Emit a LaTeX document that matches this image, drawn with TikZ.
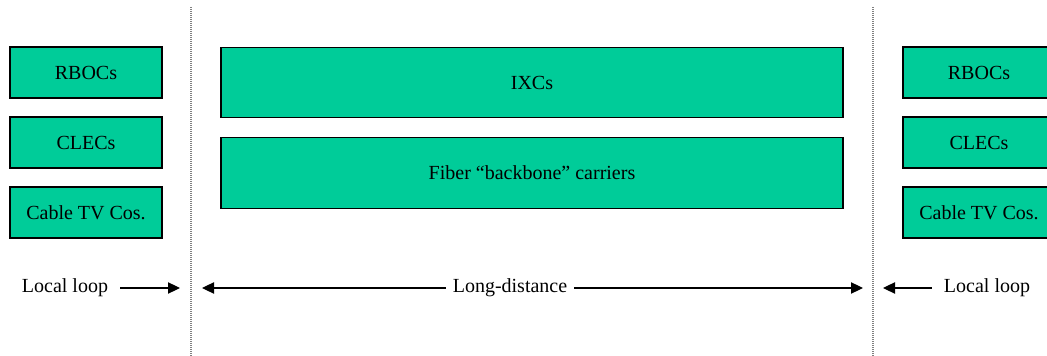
\documentclass[tikz,border=0pt]{standalone}
\usepackage{fontspec}
\setmainfont{Liberation Serif}
\usetikzlibrary{arrows.meta}
\definecolor{carrier}{RGB}{0,204,153}
\begin{document}
\begin{tikzpicture}[
        x=0.75pt, y=-0.75pt,
        every node/.style={font=\fontsize{15}{18}\selectfont},
        sidebox/.style={draw=black, fill=carrier, line width=0.8pt, minimum width=114pt, minimum height=38.25pt, inner sep=0pt},
        widebox/.style={draw=black, fill=carrier, line width=0.8pt, minimum width=466.5pt, minimum height=53pt, inner sep=0pt},
        boundary/.style={gray, line width=1pt, dash pattern=on 0.75pt off 0.75pt},
        span/.style={text height=7.5pt, text depth=0pt, inner xsep=8pt},
        reach/.style={line width=0.8pt, -{Triangle[length=9pt, width=8.5pt]}}
    ]
    \clip (0,0) rectangle (1047,356);
    % local loop, left
    \node[sidebox] (rbocL) at (86,72.5) {RBOCs};
    \node[sidebox] (clecL) at (86,142.5) {CLECs};
    \node[sidebox] (cableL) at (86,212.5) {Cable TV Cos.};
    % long distance
    \node[widebox] (ixc) at (532,82.5) {IXCs};
    \node[widebox] (fiber) at (532,173) {Fiber “backbone” carriers};
    % local loop, right (runs off the page)
    \node[sidebox] (rbocR) at (979,72.5) {RBOCs};
    \node[sidebox] (clecR) at (979,142.5) {CLECs};
    \node[sidebox] (cableR) at (979,212.5) {Cable TV Cos.};
    % boundaries
    \coordinate (topL) at (191,7);
    \coordinate (botL) at (191,356);
    \coordinate (topR) at (873,7);
    \coordinate (botR) at (873,356);
    \draw[boundary] (topL) -- (botL);
    \draw[boundary] (topR) -- (botR);
    % spans
    \node[span, inner xsep=9pt] (loopL) at (65,288) {Local loop};
    \node[span, inner xsep=5pt] (longd) at (510,288) {Long-distance};
    \node[span, inner xsep=9pt] (loopR) at (987,288) {Local loop};
    \coordinate (tipA) at (180,288);
    \coordinate (tipB) at (202,288);
    \coordinate (tipC) at (863,288);
    \coordinate (tipD) at (883,288);
    \draw[reach] (loopL.east) -- (tipA);
    \draw[reach] (longd.west) -- (tipB);
    \draw[reach] (longd.east) -- (tipC);
    \draw[reach] (loopR.west) -- (tipD);
\end{tikzpicture}
\end{document}
